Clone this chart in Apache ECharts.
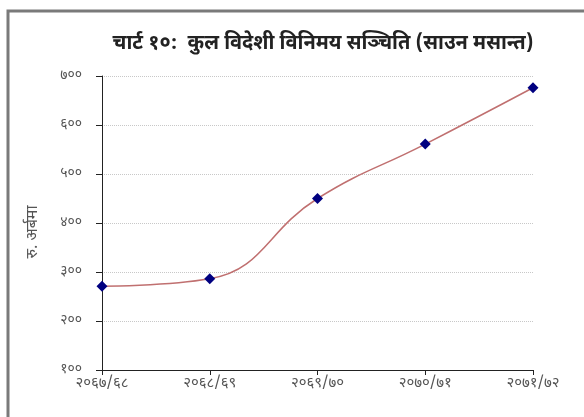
<!DOCTYPE html>
<html>
<head>
<meta charset="utf-8">
<script src="https://cdn.jsdelivr.net/npm/echarts@6/dist/echarts.min.js"></script>
<style>
html,body{margin:0;padding:0;background:#fff;}
#c{width:584px;height:417px;}
</style>
</head>
<body>
<div id="c"></div>
<script>
const titleText = 'चार्ट १०:  कुल विदेशी विनिमय सञ्चिति (साउन मसान्त)';
const yAxisName = 'रु. अर्बमा';
const categories = ['२०६७/६८', '२०६८/६९', '२०६९/७०', '२०७०/७१', '२०७१/७२'];
const reserves = [271, 286, 450, 561, 676];
const yTickValues = [100, 200, 300, 400, 500, 600, 700];
const yTickLabels = ['१००', '२००', '३००', '४००', '५००', '६००', '७००'];

const FONT = "'Noto Sans Devanagari', 'Noto Sans', 'DejaVu Sans', sans-serif";
const chart = echarts.init(document.getElementById('c'));
chart.setOption({
  backgroundColor: '#fff',
  animation: false,
  title: {
    text: titleText,
    left: 318, top: 30, textAlign: 'center',
    textStyle: {fontFamily: FONT, fontSize: 20, fontWeight: 'bold', color: '#222'}
  },
  graphic: [{
    type: 'rect', shape: {x: 8, y: 11, width: 600, height: 420},
    style: {fill: 'none', stroke: '#7a7a7a', lineWidth: 3}
  }],
  grid: {left: 102, right: 51, top: 76, bottom: 47},
  xAxis: {
    type: 'category', data: categories, boundaryGap: false,
    axisLine: {lineStyle: {color: '#222', width: 1}},
    axisTick: {show: true, alignWithLabel: true, length: 5, lineStyle: {color: '#222'}},
    axisLabel: {fontFamily: FONT, fontSize: 15, color: '#555', margin: 7}
  },
  yAxis: {
    type: 'value', min: 100, max: 700, interval: 100,
    name: yAxisName, nameLocation: 'middle', nameGap: 60, nameRotate: 90,
    nameTextStyle: {fontFamily: FONT, fontSize: 16, color: '#555', padding: [0, 0, 0, -18]},
    axisLine: {show: true, lineStyle: {color: '#222', width: 1}},
    axisTick: {show: true, inside: false, length: 6, lineStyle: {color: '#222'}},
    axisLabel: {
      fontFamily: FONT, fontSize: 14, color: '#555', margin: 20,
      formatter: v => { const i = yTickValues.indexOf(v); return i >= 0 ? yTickLabels[i] : ''; }
    },
    splitLine: {show: true, lineStyle: {color: '#c8c8c8', type: 'dotted', width: 1}}
  },
  series: [{
    type: 'line', data: reserves, smooth: 0.45,
    symbol: 'diamond', symbolSize: 11,
    itemStyle: {color: '#000080'},
    lineStyle: {color: '#c07070', width: 1.5}
  }]
});
</script>
</body>
</html>
